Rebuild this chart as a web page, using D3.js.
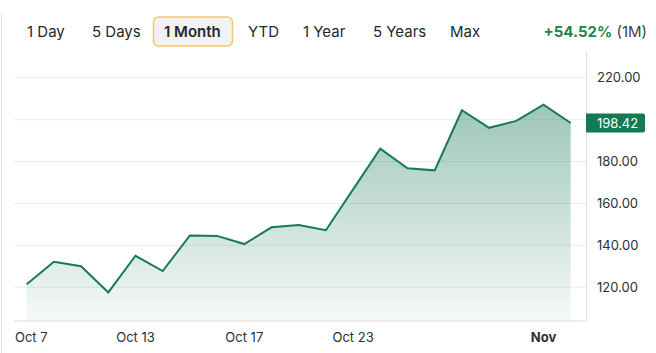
<!DOCTYPE html>
<html><head><meta charset="utf-8">
<script src="https://cdn.jsdelivr.net/npm/d3@7"></script>
<style>
html,body{margin:0;padding:0;background:#fff;}
svg{display:block;font-family:Inter,"Noto Sans",sans-serif;}
</style></head>
<body><svg id="c" width="656" height="353"></svg>
<script>
const dates = ["2025-10-07","2025-10-08","2025-10-09","2025-10-10","2025-10-13","2025-10-14","2025-10-15","2025-10-16","2025-10-17","2025-10-20","2025-10-21","2025-10-22","2025-10-23","2025-10-24","2025-10-27","2025-10-28","2025-10-29","2025-10-30","2025-10-31","2025-11-03","2025-11-04"];
const prices = [121.4,132.1,130.0,117.5,135.0,127.7,144.7,144.5,140.6,148.6,149.7,147.2,166.7,186.2,176.8,175.8,204.5,196.1,199.4,207.2,198.42];
const xTickDates = ["2025-10-07","2025-10-13","2025-10-17","2025-10-23","2025-11-03"];
const xTickLabels = ["Oct 7","Oct 13","Oct 17","Oct 23","Nov"];
const yTicks = [120,140,160,180,200,220];
const ranges = ["1 Day","5 Days","1 Month","YTD","1 Year","5 Years","Max"];
const activeRange = "1 Month";
const changeText = "+54.52%";
const changePeriod = "(1M)";
const lastPrice = prices[prices.length-1];

const svg = d3.select("#c");
const green = "#177a55";

// container left border
svg.append("line").attr("x1",1.5).attr("x2",1.5).attr("y1",14).attr("y2",353).attr("stroke","#dcdcdc");

// range buttons
const btnX = [27,92,164,248,303,373,450];
ranges.forEach((r,i)=>{
  if(r===activeRange){
    svg.append("rect").attr("x",153.5).attr("y",17).attr("width",79).attr("height",29).attr("rx",5)
      .attr("fill","#f1f2f4").attr("stroke","#f2c96e").attr("stroke-width",1.5);
  }
  svg.append("text").attr("x",btnX[i]).attr("y",37).attr("font-size",15)
    .attr("font-weight", r===activeRange?600:400).attr("fill","#24282e").text(r);
});
const ct = svg.append("text").attr("x",647).attr("y",37).attr("font-size",15).attr("text-anchor","end");
ct.append("tspan").attr("fill","#1e8449").attr("font-weight",700).text(changeText);
ct.append("tspan").attr("fill","#3a3f47").text(" "+changePeriod);

// scales
const x = d3.scalePoint().domain(dates).range([26.7,570.7]);
const y = d3.scaleLinear().domain([103.85,232.8]).range([321,51]);
const plotL = 14, plotR = 586.5, plotB = 321, plotT = 51;

// gridlines
svg.append("g").selectAll("line").data(yTicks).join("line")
  .attr("x1",plotL).attr("x2",plotR).attr("y1",d=>y(d)).attr("y2",d=>y(d))
  .attr("stroke","#ebebeb").attr("stroke-width",1);

// borders
svg.append("line").attr("x1",plotR).attr("x2",plotR).attr("y1",plotT).attr("y2",plotB).attr("stroke","#dedede");
svg.append("line").attr("x1",plotL).attr("x2",plotR).attr("y1",plotB).attr("y2",plotB).attr("stroke","#dedede");

// gradient
const defs = svg.append("defs");
const grad = defs.append("linearGradient").attr("id","g").attr("gradientUnits","userSpaceOnUse")
  .attr("x1",0).attr("x2",0).attr("y1",y(d3.max(prices))).attr("y2",plotB);
grad.append("stop").attr("offset",0).attr("stop-color",green).attr("stop-opacity",0.42);
grad.append("stop").attr("offset",1).attr("stop-color",green).attr("stop-opacity",0.04);

const data = dates.map((d,i)=>({d,v:prices[i]}));
svg.append("path").datum(data)
  .attr("d",d3.area().x(p=>x(p.d)).y0(plotB-0.5).y1(p=>y(p.v)))
  .attr("fill","url(#g)");
svg.append("path").datum(data)
  .attr("d",d3.line().x(p=>x(p.d)).y(p=>y(p.v)))
  .attr("fill","none").attr("stroke",green).attr("stroke-width",2).attr("stroke-linejoin","miter");

// y labels
const badgeY = y(lastPrice);
svg.append("g").selectAll("text").data(yTicks.filter(t=>Math.abs(y(t)-badgeY)>12)).join("text")
  .attr("x",597).attr("y",d=>y(d)+4.5).attr("font-size",13).attr("fill","#2b2f36")
  .text(d=>d.toFixed(2));

// badge
svg.append("path").attr("d",`M586,${badgeY-9.5} H643 a2,2 0 0 1 2,2 V${badgeY+7.5} a2,2 0 0 1 -2,2 H586 Z`).attr("fill","#137a55");
svg.append("text").attr("x",597).attr("y",badgeY+4.8).attr("font-size",13).attr("fill","#fff").text(lastPrice.toFixed(2));

// x labels
xTickDates.forEach((d,i)=>{
  const cx = x(d);
  const t = svg.append("text").attr("y",341.5).attr("font-size",13).attr("fill","#2b2f36")
    .attr("font-weight", xTickLabels[i]==="Nov"?700:400).text(xTickLabels[i]);
  const w = t.node().getComputedTextLength();
  t.attr("x", Math.max(15, cx - w/2));
});
</script></body></html>
